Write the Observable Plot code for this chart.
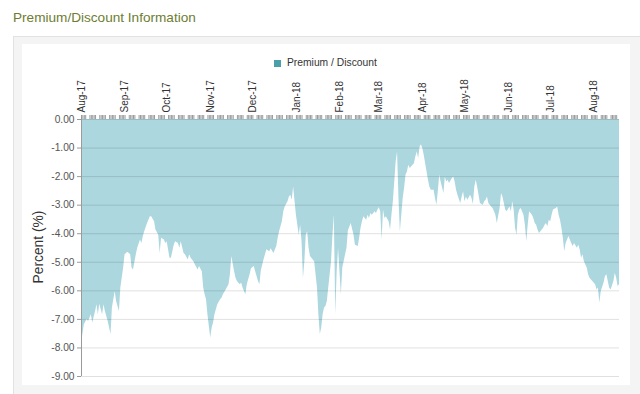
<!DOCTYPE html>
<html>
<head>
<meta charset="utf-8">
<script src="https://cdn.jsdelivr.net/npm/d3@7"></script>
<script src="https://cdn.jsdelivr.net/npm/@observablehq/plot@0.6"></script>
<style>
  html, body { margin: 0; padding: 0; }
  body { width: 640px; height: 394px; position: relative; overflow: hidden; background: #fff;
         font-family: "Liberation Sans", Arial, Helvetica, sans-serif; }
  .abs { position: absolute; }
</style>
</head>
<body>
<div class="abs" style="left:13px;top:11px;font-size:13.6px;line-height:14px;color:#6d7d32;white-space:nowrap">Premium/Discount Information</div>
<div class="abs" style="left:13px;top:36px;width:627px;height:358px;background:#f4f4f4;border-top:1px solid #e2e2e2;border-left:1px solid #e2e2e2;box-sizing:border-box"></div>
<div class="abs" style="left:22px;top:44px;width:608px;height:341px;background:#fff"></div>
<div class="abs" style="left:274px;top:60px;width:7px;height:7px;background:#4a9fa9"></div>
<div class="abs" style="left:287px;top:58px;font-size:10.3px;line-height:10px;color:#333;white-space:nowrap">Premium / Discount</div>
<div class="abs" style="left:39px;top:247px;transform:translate(-50%,-50%) rotate(-90deg);font-size:13.8px;line-height:14px;color:#333;white-space:nowrap">Percent (%)</div>
<div id="chart" class="abs" style="left:22px;top:44px"></div>
<script>
const dates = [
"2017-08-01","2017-08-03","2017-08-05","2017-08-06","2017-08-08","2017-08-09","2017-08-11","2017-08-12","2017-08-13","2017-08-14",
"2017-08-16","2017-08-17","2017-08-18","2017-08-20","2017-08-22","2017-08-23","2017-08-25","2017-08-26","2017-08-28","2017-08-29",
"2017-08-31","2017-09-01","2017-09-03","2017-09-05","2017-09-06","2017-09-07","2017-09-09","2017-09-10","2017-09-12","2017-09-13",
"2017-09-14","2017-09-15","2017-09-17","2017-09-19","2017-09-20","2017-09-22","2017-09-23","2017-09-25","2017-09-26","2017-09-27",
"2017-09-29","2017-09-30","2017-10-01","2017-10-03","2017-10-04","2017-10-06","2017-10-07","2017-10-09","2017-10-10","2017-10-11",
"2017-10-13","2017-10-14","2017-10-16","2017-10-17","2017-10-18","2017-10-20","2017-10-21","2017-10-23","2017-10-24","2017-10-26",
"2017-10-27","2017-10-28","2017-10-29","2017-10-30","2017-11-01","2017-11-02","2017-11-03","2017-11-04","2017-11-06","2017-11-08",
"2017-11-09","2017-11-10","2017-11-12","2017-11-14","2017-11-15","2017-11-16","2017-11-18","2017-11-19","2017-11-20","2017-11-22",
"2017-11-23","2017-11-24","2017-11-26","2017-11-27","2017-11-29","2017-11-30","2017-12-02","2017-12-03","2017-12-05","2017-12-06",
"2017-12-07","2017-12-09","2017-12-11","2017-12-13","2017-12-14","2017-12-16","2017-12-18","2017-12-19","2017-12-20","2017-12-22",
"2017-12-23","2017-12-24","2017-12-26","2017-12-27","2017-12-28","2017-12-29","2017-12-30","2018-01-01","2018-01-02","2018-01-03",
"2018-01-04","2018-01-05","2018-01-06","2018-01-07","2018-01-08","2018-01-09","2018-01-10","2018-01-11","2018-01-12","2018-01-13",
"2018-01-14","2018-01-16","2018-01-17","2018-01-18","2018-01-19","2018-01-20","2018-01-21","2018-01-22","2018-01-23","2018-01-24",
"2018-01-26","2018-01-27","2018-01-28","2018-01-29","2018-01-30","2018-01-31","2018-02-01","2018-02-02","2018-02-03","2018-02-05",
"2018-02-06","2018-02-07","2018-02-09","2018-02-11","2018-02-12","2018-02-14","2018-02-15","2018-02-16","2018-02-17","2018-02-18",
"2018-02-20","2018-02-21","2018-02-22","2018-02-23","2018-02-24","2018-02-26","2018-02-27","2018-02-28","2018-03-01","2018-03-02",
"2018-03-03","2018-03-04","2018-03-05","2018-03-06","2018-03-08","2018-03-09","2018-03-10","2018-03-11","2018-03-12","2018-03-13",
"2018-03-14","2018-03-15","2018-03-16","2018-03-17","2018-03-18","2018-03-19","2018-03-20","2018-03-21","2018-03-22","2018-03-23",
"2018-03-25","2018-03-26","2018-03-27","2018-03-28","2018-03-29","2018-03-30","2018-03-31","2018-04-01","2018-04-02","2018-04-03",
"2018-04-04","2018-04-05","2018-04-06","2018-04-07","2018-04-09","2018-04-10","2018-04-11","2018-04-12","2018-04-13","2018-04-14",
"2018-04-16","2018-04-17","2018-04-18","2018-04-19","2018-04-20","2018-04-22","2018-04-23","2018-04-24","2018-04-25","2018-04-26",
"2018-04-28","2018-04-29","2018-04-30","2018-05-01","2018-05-02","2018-05-03","2018-05-05","2018-05-06","2018-05-07","2018-05-08",
"2018-05-09","2018-05-10","2018-05-11","2018-05-12","2018-05-14","2018-05-15","2018-05-16","2018-05-17","2018-05-18","2018-05-20",
"2018-05-21","2018-05-22","2018-05-23","2018-05-24","2018-05-26","2018-05-27","2018-05-28","2018-05-29","2018-05-30","2018-05-31",
"2018-06-02","2018-06-03","2018-06-04","2018-06-05","2018-06-06","2018-06-07","2018-06-08","2018-06-09","2018-06-10","2018-06-12",
"2018-06-13","2018-06-14","2018-06-15","2018-06-16","2018-06-18","2018-06-19","2018-06-20","2018-06-21","2018-06-22","2018-06-23",
"2018-06-25","2018-06-26","2018-06-27","2018-06-28","2018-06-29","2018-06-30","2018-07-01","2018-07-02","2018-07-03","2018-07-05",
"2018-07-06","2018-07-07","2018-07-08","2018-07-09","2018-07-10","2018-07-11","2018-07-12","2018-07-14","2018-07-15","2018-07-16",
"2018-07-17","2018-07-18","2018-07-20","2018-07-21","2018-07-22","2018-07-23","2018-07-24","2018-07-25","2018-07-27","2018-07-28",
"2018-07-29","2018-07-30","2018-07-31","2018-08-02","2018-08-03","2018-08-04","2018-08-05","2018-08-06","2018-08-08","2018-08-09",
"2018-08-10","2018-08-11","2018-08-12","2018-08-13","2018-08-15","2018-08-16","2018-08-17","2018-08-18","2018-08-19"
];
const values = [
-7.85,-7.19,-7.0,-7.07,-6.84,-7.13,-6.72,-6.49,-6.84,-6.47,
-6.84,-6.49,-6.72,-7.07,-7.53,-6.6,-6.02,-6.37,-6.72,-5.9,
-5.2,-4.74,-4.65,-4.74,-5.2,-5.27,-4.74,-4.51,-4.22,-4.34,
-4.1,-3.93,-3.64,-3.41,-3.41,-3.58,-3.87,-4.05,-4.69,-4.16,
-4.22,-4.34,-4.28,-4.86,-4.86,-4.4,-4.28,-4.34,-4.51,-4.28,
-4.69,-4.74,-4.92,-4.74,-4.86,-4.98,-5.09,-5.27,-5.15,-5.33,
-5.9,-6.14,-6.31,-6.84,-7.65,-7.3,-7.13,-6.84,-6.49,-6.31,
-6.26,-6.14,-5.97,-5.79,-5.44,-4.8,-5.33,-5.56,-5.67,-5.79,
-5.73,-5.9,-6.14,-5.79,-5.44,-5.23,-5.15,-5.33,-5.67,-5.79,
-5.3,-4.9,-4.56,-4.63,-4.53,-4.69,-4.45,-4.16,-3.93,-3.58,
-3.23,-3.06,-2.88,-2.71,-2.65,-2.83,-2.36,-3.35,-3.7,-4.05,
-3.7,-4.28,-5.56,-4.98,-4.05,-3.93,-4.51,-4.8,-4.86,-4.92,
-4.98,-5.9,-6.84,-7.53,-7.3,-6.84,-6.6,-6.55,-6.37,-5.9,
-4.98,-4.05,-3.35,-6.84,-5.33,-4.51,-5.33,-6.14,-5.2,-4.74,
-4.51,-3.9,-3.64,-4.05,-4.4,-4.45,-4.16,-3.81,-3.58,-3.41,
-3.53,-3.35,-3.47,-3.29,-3.35,-3.23,-3.29,-3.17,-3.09,-3.23,
-4.22,-3.17,-3.47,-3.41,-3.58,-3.87,-3.35,-2.88,-2.19,-1.49,
-1.14,-2.77,-3.93,-3.35,-2.77,-2.42,-1.95,-1.84,-1.6,-1.72,
-1.6,-1.55,-1.31,-1.14,-1.37,-0.97,-0.88,-1.02,-1.26,-1.55,
-1.84,-2.13,-2.36,-2.48,-2.48,-2.77,-3.0,-2.53,-1.95,-2.19,
-2.59,-2.01,-2.19,-2.13,-2.24,-2.07,-2.01,-2.19,-2.48,-2.65,
-2.94,-2.71,-2.53,-2.88,-2.71,-2.83,-2.65,-2.77,-2.98,-2.36,
-2.13,-2.36,-2.65,-2.94,-3.0,-2.88,-2.83,-2.71,-2.94,-3.06,
-3.12,-3.23,-3.35,-3.64,-3.12,-2.59,-2.71,-2.94,-3.17,-3.23,
-3.06,-3.23,-2.88,-3.17,-3.81,-4.05,-3.35,-3.17,-3.12,-3.35,
-3.7,-4.28,-3.7,-3.23,-3.35,-3.47,-3.64,-3.7,-3.87,-3.99,
-3.87,-3.81,-3.7,-3.64,-3.76,-3.53,-3.58,-3.35,-3.17,-3.12,
-3.06,-3.35,-3.53,-3.81,-4.16,-4.63,-4.34,-4.1,-4.22,-4.34,
-4.45,-4.34,-4.51,-4.4,-4.57,-4.86,-4.74,-4.98,-5.2,-5.44,
-5.56,-5.62,-5.67,-5.79,-5.97,-5.9,-6.43,-6.02,-5.73,-5.5,
-5.44,-5.67,-5.9,-5.97,-5.67,-5.38,-5.56,-5.85,-5.79
];
const monthTicks = ["2017-08-01","2017-09-01","2017-10-01","2017-11-01","2017-12-01","2018-01-01","2018-02-01","2018-03-01","2018-04-01","2018-05-01","2018-06-01","2018-07-01","2018-08-01"];
const monthLabels = ["Aug-17","Sep-17","Oct-17","Nov-17","Dec-17","Jan-18","Feb-18","Mar-18","Apr-18","May-18","Jun-18","Jul-18","Aug-18"];
const yTicks = [0,-1,-2,-3,-4,-5,-6,-7,-8,-9];
const seriesName = "Premium / Discount";

const data = dates.map((d, i) => ({date: new Date(d), value: values[i]}));
const xStart = new Date("2017-08-01"), xEnd = new Date("2018-08-19");
const tradingDays = d3.utcDay.range(xStart, new Date("2018-08-18")).filter(d => d.getUTCDay() !== 0 && d.getUTCDay() !== 6);
const months = monthTicks.map(d => new Date(d));

const chart = Plot.plot({
  width: 608, height: 341,
  marginLeft: 59, marginRight: 11, marginTop: 75, marginBottom: 9,
  style: {background: "transparent", fontFamily: "'Liberation Sans', Arial, sans-serif", fontSize: "10.2px", color: "#555", overflow: "visible"},
  x: {type: "utc", domain: [xStart, xEnd], axis: null},
  y: {domain: [-9, 0], axis: null},
  marks: [
    Plot.areaY(data, {x: "date", y1: 0, y2: "value", fill: "#acd7df", title: () => seriesName}),
    Plot.gridY(yTicks, {stroke: "#000", strokeOpacity: 0.12}),
    Plot.ruleX([xStart], {stroke: "#9a9a9a"}),
    Plot.axisY(yTicks, {tickSize: 4, tickPadding: 3, tickFormat: d => d.toFixed(2), stroke: "#9a9a9a", fill: "#555", label: null}),
    Plot.ruleX(tradingDays, {x: d => d, y1: 0, y2: 0, insetTop: -4, stroke: "#9a9a9a"}),
    Plot.text(months, {x: d => d, y: 0, dy: -7, rotate: -90, textAnchor: "start", text: (d, i) => monthLabels[i], fill: "#333", fontSize: 10})
  ]
});
document.getElementById("chart").appendChild(chart);
</script>
</body>
</html>
